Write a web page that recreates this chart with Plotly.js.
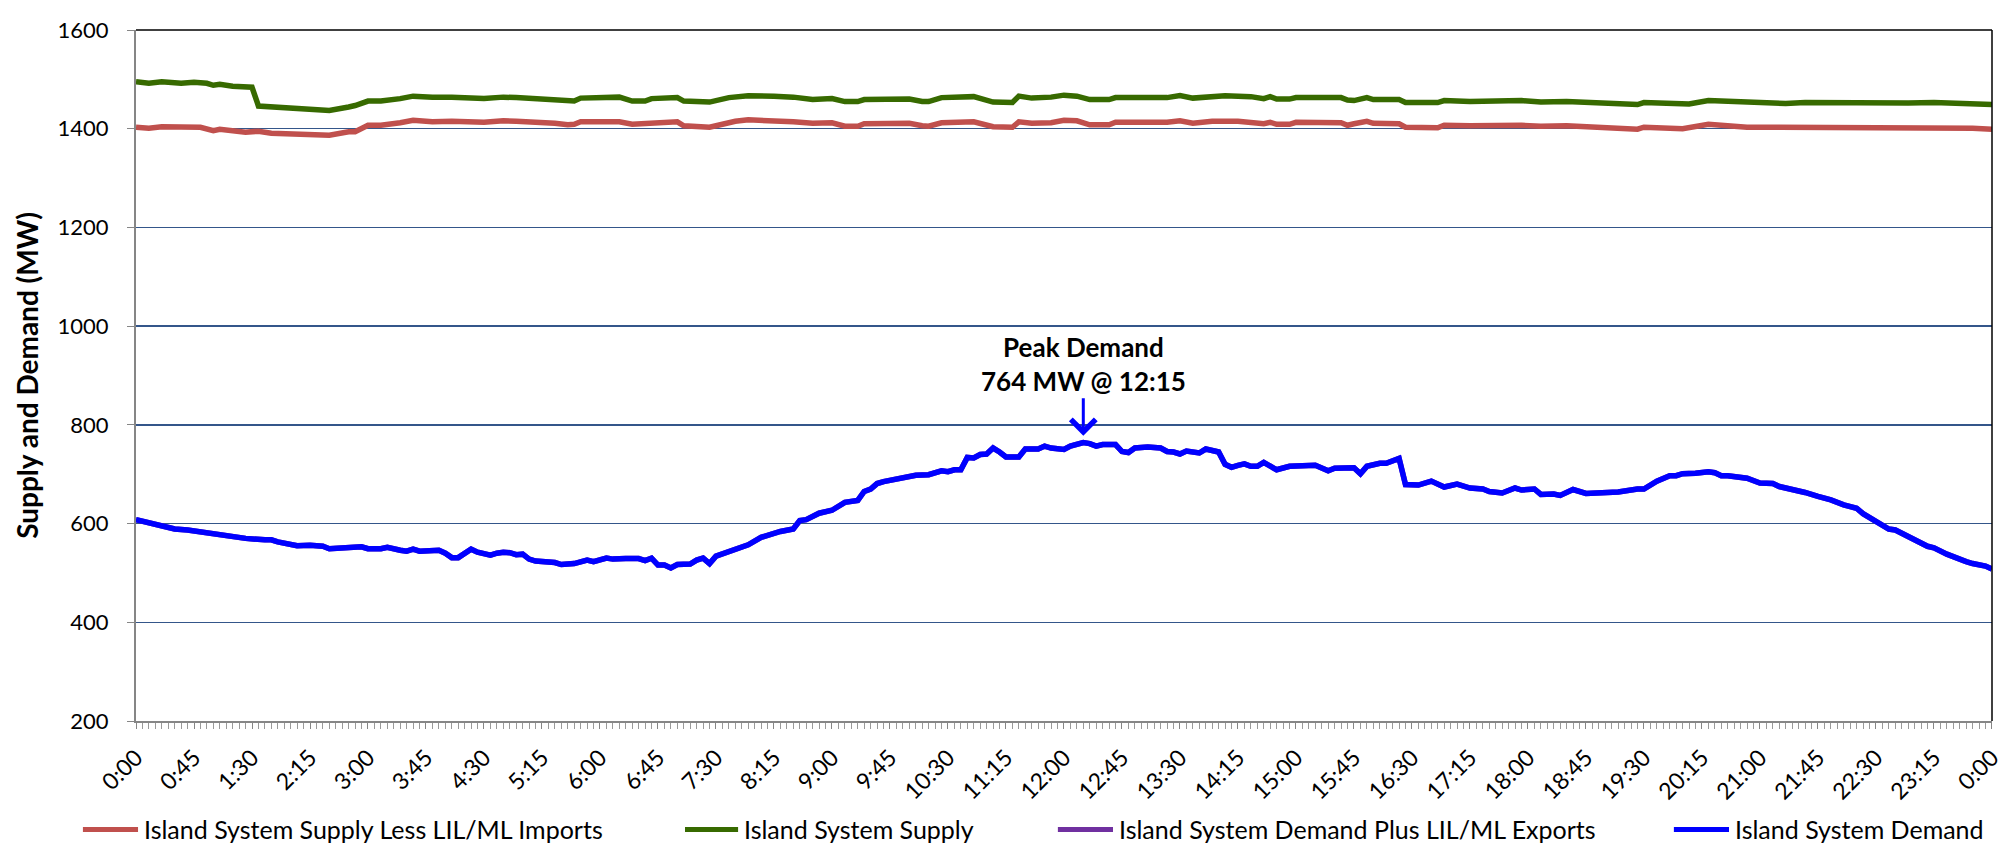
<!DOCTYPE html>
<html>
<head>
<meta charset="utf-8">
<script src="https://cdn.plot.ly/plotly-3.0.1.min.js"></script>
<style>html,body{margin:0;padding:0;background:#fff;}#chart{width:2006px;height:846px;}</style>
</head>
<body>
<div id="chart"></div>
<script>
// ---- Category tick labels (every 45 min) ----
const tickLabels = ["0:00","0:45","1:30","2:15","3:00","3:45","4:30","5:15","6:00","6:45","7:30","8:15",
  "9:00","9:45","10:30","11:15","12:00","12:45","13:30","14:15","15:00","15:45","16:30","17:15",
  "18:00","18:45","19:30","20:15","21:00","21:45","22:30","23:15","0:00"];

// ---- Series names ----
const seriesNames = ["Island System Supply Less LIL/ML Imports","Island System Supply",
  "Island System Demand Plus LIL/ML Exports","Island System Demand"];

// ---- Island System Supply (minutes after midnight, MW) ----
const supplyTimes = [0,10,20,25,35,45,55,60,65,75,
  85,90,95,110,125,140,150,165,170,180,
  190,205,215,230,245,270,285,295,315,325,
  330,340,345,365,375,385,395,400,420,425,
  440,445,460,475,495,510,525,540,550,560,
  565,600,610,615,625,650,665,680,685,695,
  710,720,730,740,755,760,800,810,820,835,
  845,865,875,880,885,895,900,935,940,945,
  955,960,980,985,1010,1015,1035,1075,1090,1110,
  1125,1145,1165,1170,1195,1205,1220,1235,1250,1270,
  1280,1295,1330,1360,1375,1395,1410,1425,1440];
const supplyMW = [1495,1492,1495,1494,1492,1494,1492,1488,1490,1486,
  1484,1484,1446,1443,1441,1438,1437,1444,1447,1456,
  1456,1461,1466,1464,1464,1461,1464,1463,1460,1459,
  1456,1456,1462,1462,1464,1456,1456,1461,1463,1456,
  1453,1454,1463,1467,1466,1464,1459,1461,1455,1455,
  1459,1460,1455,1455,1463,1465,1454,1453,1466,1462,
  1464,1468,1466,1459,1459,1463,1463,1467,1462,1466,
  1467,1465,1461,1465,1460,1460,1463,1463,1458,1457,
  1463,1459,1459,1453,1453,1457,1455,1457,1454,1455,
  1453,1449,1449,1453,1452,1450,1457,1455,1453,1453,
  1451,1453,1452,1453,1452,1453,1452,1451,1449];

// ---- Island System Supply Less LIL/ML Imports ----
const supplyLessTimes = [0,10,20,30,40,50,60,65,85,95,
  105,125,140,150,165,170,180,190,205,215,
  230,245,270,285,295,315,325,335,340,345,
  375,385,395,400,420,425,445,455,465,475,
  495,510,525,540,550,560,565,600,610,615,
  625,650,665,680,685,695,710,720,730,740,
  755,760,800,810,820,835,855,875,880,885,
  895,900,935,940,945,955,960,980,985,1010,
  1015,1035,1075,1090,1110,1125,1145,1165,1170,1200,
  1220,1235,1250,1275,1295,1330,1360,1395,1425,1440];
const supplyLessMW = [1403,1401,1404,1403,1404,1403,1396,1399,1393,1395,
  1391,1390,1387,1387,1394,1394,1407,1407,1412,1417,
  1414,1415,1413,1416,1415,1413,1411,1408,1409,1414,
  1414,1409,1410,1413,1414,1406,1403,1409,1415,1418,
  1417,1414,1411,1412,1405,1405,1410,1411,1406,1405,
  1412,1414,1404,1403,1414,1411,1412,1417,1416,1408,
  1408,1413,1413,1416,1411,1415,1415,1410,1413,1409,
  1409,1413,1412,1407,1410,1415,1411,1410,1403,1402,
  1407,1406,1407,1405,1406,1404,1399,1399,1403,1400,
  1409,1406,1403,1403,1403,1402,1403,1402,1401,1399];

// ---- Island System Demand ----
const demandTimes = [0,10,20,30,40,50,60,75,85,100,
  105,110,125,135,145,150,165,175,180,190,
  195,200,205,210,215,220,230,235,240,245,
  250,255,260,265,275,280,285,290,295,300,
  305,310,315,325,330,340,350,355,365,370,
  380,390,395,400,405,410,415,420,430,435,
  440,445,450,460,475,485,500,510,515,520,
  530,540,550,560,565,570,575,580,590,600,
  605,615,625,630,635,640,645,650,655,660,
  665,670,675,685,690,700,705,710,720,725,
  735,740,745,750,760,765,770,775,785,795,
  800,805,810,815,825,830,840,845,850,855,
  860,865,870,875,885,895,905,915,925,930,
  945,950,955,965,970,975,980,985,995,1005,
  1015,1025,1035,1045,1050,1060,1070,1075,1085,1090,
  1100,1105,1115,1125,1135,1150,1165,1170,1180,1190,
  1195,1200,1210,1220,1225,1230,1235,1245,1250,1260,
  1270,1275,1285,1295,1305,1315,1325,1335,1340,1350,
  1360,1365,1375,1380,1390,1395,1405,1420,1425,1435,
  1440];
const demandMW = [608,601,595,589,587,583,580,574,570,567,
  567,563,555,556,554,549,550,553,549,549,
  552,548,546,544,548,544,544,546,540,531,
  531,538,548,542,536,540,542,541,537,538,
  528,524,523,521,517,519,526,523,530,528,
  529,529,525,530,516,516,510,517,518,526,
  530,519,534,543,557,572,584,589,606,608,
  621,627,643,647,665,670,681,685,690,693,
  698,699,707,705,709,709,734,733,740,741,
  753,745,735,735,751,751,757,753,750,757,
  764,762,757,760,760,746,744,753,755,753,
  746,745,741,747,743,751,745,720,714,718,
  721,716,716,724,709,716,718,718,707,712,
  713,701,716,722,722,728,732,679,678,686,
  674,680,672,670,665,662,672,668,670,659,
  660,657,669,661,663,664,670,670,686,697,
  697,701,702,705,703,697,697,693,692,682,
  681,675,670,663,655,648,638,631,620,606,
  589,587,574,569,554,551,538,523,519,514,
  508];
// Exports are zero on this day: demand plus exports equals demand
const demandPlusExportsMW = demandMW.slice();

const colors = ["#C0504D", "#376A00", "#7030A0", "#0000FF"];
const FONT = "Lato, 'Open Sans', sans-serif";

const tickVals = tickLabels.map((_, i) => i * 45);
function fmtTime(m) { m = m % 1440; return Math.floor(m / 60) + ":" + String(m % 60).padStart(2, "0"); }

const LW = 5.5;
const traces = [
  {x: supplyLessTimes, y: supplyLessMW, name: seriesNames[0], type: "scatter", mode: "lines",
   line: {color: colors[0], width: LW}},
  {x: supplyTimes, y: supplyMW, name: seriesNames[1], type: "scatter", mode: "lines",
   line: {color: colors[1], width: LW}},
  {x: demandTimes, y: demandPlusExportsMW, name: seriesNames[2], type: "scatter", mode: "lines",
   line: {color: colors[2], width: LW}},
  {x: demandTimes, y: demandMW, name: seriesNames[3], type: "scatter", mode: "lines",
   line: {color: colors[3], width: LW}}
];

// peak demand from the data
let pk = 0;
demandMW.forEach((v, i) => { if (v > demandMW[pk]) pk = i; });

// custom legend (line sample + label) positioned below the axis
const legendX = [[-0.0286, 0.0011], [0.2958, 0.3244], [0.4967, 0.5264], [0.8286, 0.8583]];
const legendY = -0.157;
const shapes = [
  {type: "line", xref: "paper", yref: "paper", x0: 0, x1: 1, y0: 1, y1: 1, line: {color: "#000", width: 1.5}, layer: "above"},
  {type: "line", xref: "paper", yref: "paper", x0: 1, x1: 1, y0: 0, y1: 1, line: {color: "#000", width: 1.5}, layer: "above"}
];
const annotations = [
  {x: demandTimes[pk], y: demandMW[pk], xref: "x", yref: "y",
   text: "Peak Demand<br>" + demandMW[pk] + " MW @ " + fmtTime(demandTimes[pk]),
   showarrow: true, arrowhead: 4, arrowsize: 1.6, arrowwidth: 3, arrowcolor: "#0000FF",
   ax: 0, ay: -79, standoff: 7, font: {family: FONT, size: 26, weight: "bold", color: "#000"}}
];
seriesNames.forEach((n, i) => {
  shapes.push({type: "line", xref: "paper", yref: "paper", x0: legendX[i][0], x1: legendX[i][1],
    y0: legendY, y1: legendY, line: {color: colors[i], width: 5}});
  annotations.push({xref: "paper", yref: "paper", x: legendX[i][1] + 0.002, y: legendY,
    xanchor: "left", yanchor: "middle", showarrow: false, text: n,
    font: {family: FONT, size: 25, color: "#000"}});
});

const layout = {
  width: 2006, height: 846,
  margin: {l: 136, r: 14, t: 30, b: 125},
  paper_bgcolor: "#fff", plot_bgcolor: "#fff",
  font: {family: FONT, color: "#000"},
  showlegend: false,
  xaxis: {
    range: [-0.001, 1440.05], tickmode: "array", tickvals: tickVals, ticktext: tickLabels,
    tickangle: -45, tickfont: {size: 23, color: "#000"}, ticklabeloverflow: "allow",
    ticks: "outside", ticklen: 6, tickcolor: "#868686", tickwidth: 1,
    minor: {tickmode: "linear", tick0: 0, dtick: 5, ticks: "outside", ticklen: 6, tickcolor: "#9a9a9a", tickwidth: 1, showgrid: false},
    showline: true, linecolor: "#868686", linewidth: 2,
    showgrid: false, zeroline: false, ticklabelstandoff: 6
  },
  yaxis: {
    range: [200, 1600], tickmode: "linear", tick0: 200, dtick: 200,
    tickfont: {size: 22, color: "#000"},
    ticks: "outside", ticklen: 7, tickcolor: "#868686",
    showline: true, linecolor: "#868686", linewidth: 2,
    gridcolor: "#34568A", gridwidth: 1.5, zeroline: false, ticklabelstandoff: 14,
    title: {text: "Supply and Demand (MW)", font: {family: FONT, size: 28, weight: "bold", color: "#000"}, standoff: 11}
  },
  shapes: shapes,
  annotations: annotations
};

Plotly.newPlot("chart", traces, layout, {displayModeBar: false, staticPlot: true});
</script>
</body>
</html>
